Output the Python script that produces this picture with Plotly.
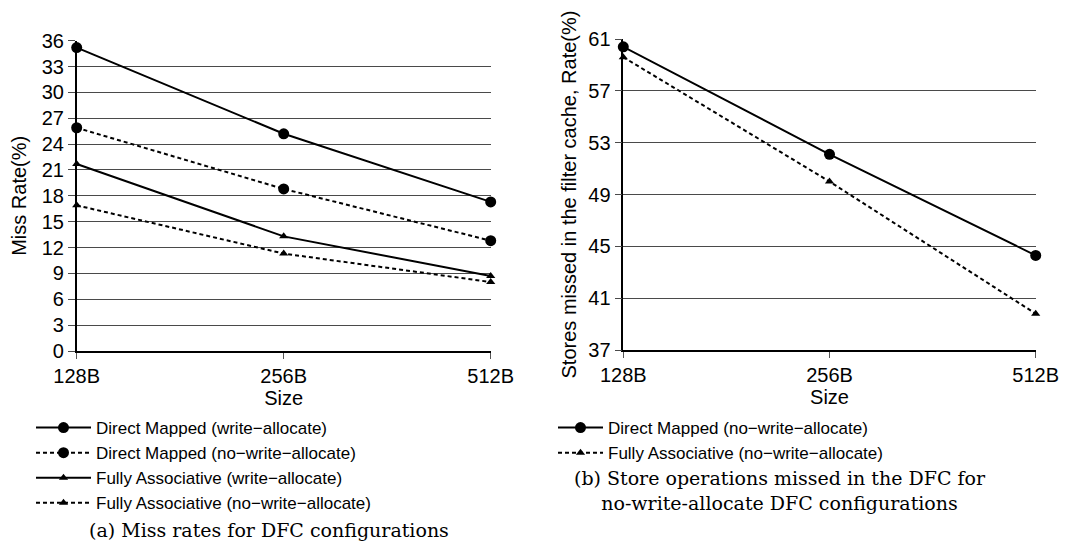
import plotly.graph_objects as go

# Cache sizes on the x axis
sizes = ["128B", "256B", "512B"]

# (a) Miss rates (%) for the DFC configurations
dm_write_alloc = [35.2, 25.2, 17.3]
dm_no_write_alloc = [25.9, 18.8, 12.8]
fa_write_alloc = [21.7, 13.3, 8.7]
fa_no_write_alloc = [16.9, 11.3, 8.0]

# (b) Store operations missed in the filter cache (%), no-write-allocate
store_dm_no_write_alloc = [60.4, 52.1, 44.3]
store_fa_no_write_alloc = [59.6, 50.0, 39.8]

W, H = 1065, 546
SANS = "Liberation Sans, Arial, Helvetica, sans-serif"
SERIF = "DejaVu Serif, serif"

fig = go.Figure()


def add_series(y, name, dashed, symbol, xa, ya, legend):
    fig.add_trace(go.Scatter(
        x=sizes, y=y, name=name, mode="lines+markers",
        xaxis=xa, yaxis=ya, legend=legend, cliponaxis=False,
        line=dict(color="black", width=2, dash="4px,3px" if dashed else "solid"),
        marker=dict(symbol=symbol, color="black",
                    size=11 if symbol == "circle" else 8),
    ))


add_series(dm_write_alloc, "Direct Mapped (write\u2212allocate)", False, "circle", "x", "y", "legend")
add_series(dm_no_write_alloc, "Direct Mapped (no\u2212write\u2212allocate)", True, "circle", "x", "y", "legend")
add_series(fa_write_alloc, "Fully Associative (write\u2212allocate)", False, "triangle-up", "x", "y", "legend")
add_series(fa_no_write_alloc, "Fully Associative (no\u2212write\u2212allocate)", True, "triangle-up", "x", "y", "legend")

add_series(store_dm_no_write_alloc, "Direct Mapped (no\u2212write\u2212allocate)", False, "circle", "x2", "y2", "legend2")
add_series(store_fa_no_write_alloc, "Fully Associative (no\u2212write\u2212allocate)", True, "triangle-up", "x2", "y2", "legend2")

xcommon = dict(
    type="category", range=[0, 2], showgrid=False, zeroline=False,
    showline=True, linecolor="black", linewidth=1.5,
    ticks="outside", ticklen=6, tickcolor="#555", tickwidth=1,
    tickfont=dict(family=SANS, size=20, color="black"),
    title=dict(text="Size", font=dict(family=SANS, size=20, color="black"), standoff=2),
    automargin=False,
)
ycommon = dict(
    showgrid=True, gridcolor="#4a4a4a", gridwidth=1, zeroline=False,
    showline=True, linecolor="black", linewidth=1.5,
    ticks="outside", ticklen=7, tickcolor="#4a4a4a", tickwidth=1,
    tickfont=dict(family=SANS, size=20, color="black"),
    automargin=False,
)

fig.update_layout(
    width=W, height=H,
    margin=dict(l=0, r=0, t=0, b=0),
    paper_bgcolor="white", plot_bgcolor="white",
    xaxis=dict(domain=[76.7 / W, 490.7 / W], anchor="y", **xcommon),
    yaxis=dict(domain=[(H - 351) / H, (H - 40.7) / H], anchor="x",
               range=[0, 36], dtick=3, tick0=0,
               title=dict(text="Miss Rate(%)", font=dict(family=SANS, size=20, color="black"), standoff=10),
               **ycommon),
    xaxis2=dict(domain=[623.3 / W, 1035.7 / W], anchor="y2", **xcommon),
    yaxis2=dict(domain=[(H - 350) / H, (H - 39) / H], anchor="x2",
                range=[37, 61], dtick=4, tick0=37,
                title=dict(text="Stores missed in the filter cache, Rate(%)",
                           font=dict(family=SANS, size=20, color="black"), standoff=6),
                **ycommon),
    legend=dict(x=31 / W, y=(H - 410) / H, xanchor="left", yanchor="top",
                bgcolor="rgba(0,0,0,0)", font=dict(family=SANS, size=17, color="black"),
                itemwidth=55, tracegroupgap=0),
    legend2=dict(x=553 / W, y=(H - 410) / H, xanchor="left", yanchor="top",
                 bgcolor="rgba(0,0,0,0)", font=dict(family=SANS, size=17, color="black"),
                 itemwidth=45, tracegroupgap=0),
    showlegend=True,
)

cap_font = dict(family=SERIF, size=19, color="black")
fig.add_annotation(text="(a) Miss rates for DFC configurations",
                   x=269 / W, y=(H - 530) / H, xref="paper", yref="paper",
                   xanchor="center", yanchor="middle", showarrow=False, font=cap_font)
fig.add_annotation(text="(b) Store operations missed in the DFC for<br>no-write-allocate DFC configurations",
                   x=780 / W, y=(H - 490) / H, xref="paper", yref="paper",
                   xanchor="center", yanchor="middle", showarrow=False, font=cap_font)

fig.write_html("out.html")
